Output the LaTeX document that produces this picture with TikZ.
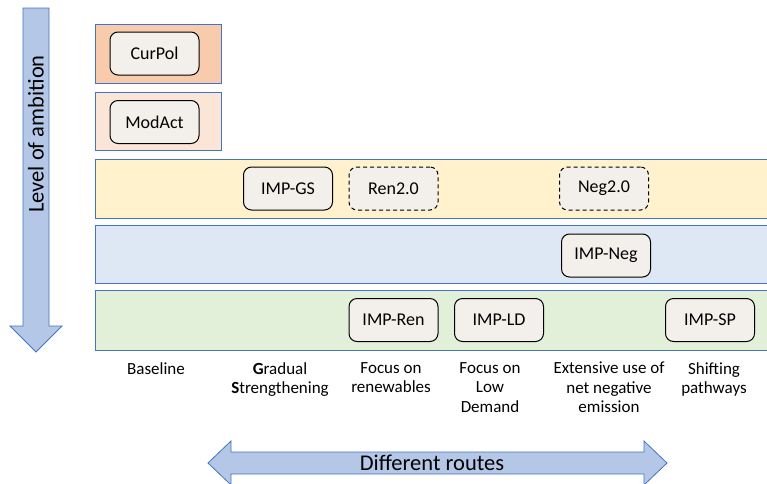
\documentclass[tikz,border=0pt]{standalone}
\usepackage{fontspec}
\setmainfont{Carlito}
\usepackage{tikz}

\definecolor{edgeblue}{HTML}{4472C4}
\definecolor{arrowfill}{HTML}{B4C7E7}
\definecolor{curfill}{HTML}{F8CBAD}
\definecolor{modfill}{HTML}{FBE5D6}
\definecolor{yelfill}{HTML}{FFF2CC}
\definecolor{bluefill}{HTML}{DEE8F5}
\definecolor{greenfill}{HTML}{E2F0D9}
\definecolor{scenfill}{HTML}{F3F0EC}

\begin{document}
\begin{tikzpicture}[x=1pt, y=-1pt,
    band/.style = {draw=edgeblue, line width=0.8pt},
    bigarrow/.style = {draw=edgeblue, fill=arrowfill, line width=0.8pt, line join=miter},
    scen/.style = {draw, rounded corners=8pt, fill=scenfill, line width=1pt,
        minimum width=89pt, minimum height=43pt, font=\fontsize{18}{21}\selectfont},
    option/.style = {scen, dash pattern=on 4pt off 3pt},
    route/.style = {align=center, anchor=north, inner sep=0pt, font=\fontsize{17}{19.5}\selectfont}]
    \useasboundingbox (0,0) rectangle (767,483);

    \draw[bigarrow] (23,8) -- (49,8) -- (49,326) -- (62,326) -- (36,352) -- (10,326) -- (23,326) -- cycle;
    \node[rotate=90, font=\fontsize{22.5}{26}\selectfont] (ambition) at (36,134) {Level of ambition};

    \draw[band, fill=curfill] (95,24) rectangle (221,83);
    \draw[band, fill=modfill] (95,92) rectangle (221,150);
    \draw[band, fill=yelfill] (95,159) rectangle (767,218);
    \draw[band, fill=bluefill] (95,225) rectangle (767,283);
    \draw[band, fill=greenfill] (95,290) rectangle (767,350);

    \node[scen] (curpol) at (154.5,53.5) {CurPol};
    \node[scen] (modact) at (154.5,122) {ModAct};
    \node[scen] (gs) at (288,188.5) {IMP-GS};
    \node[option] (ren2) at (393.5,188.5) {Ren2.0};
    \node[option] (neg2) at (604,188.5) {Neg2.0};
    \node[scen] (neg) at (606,255.5) {IMP-Neg};
    \node[scen] (ren) at (393.5,320) {IMP-Ren};
    \node[scen] (ld) at (499,320) {IMP-LD};
    \node[scen] (sp) at (710,320) {IMP-SP};

    \node[route] (base) at (156,362) {Baseline};
    \node[route] (grad) at (280,362) {\textbf{G}radual\\\textbf{S}trengthening};
    \node[route] (focren) at (391,362) {Focus on\\renewables};
    \node[route] (focld) at (490,362) {Focus on\\Low\\Demand};
    \node[route] (ext) at (609,362) {Extensive use of\\net negative\\emission};
    \node[route] (shift) at (714,362) {Shifting\\pathways};

    \draw[bigarrow] (208,463) -- (231,441) -- (231,452) -- (644,452) -- (644,441) -- (667,463)
        -- (644,485) -- (644,474) -- (231,474) -- (231,485) -- cycle;
    \node[font=\fontsize{22.5}{26}\selectfont] (routes) at (432,463) {Different routes};
\end{tikzpicture}
\end{document}
